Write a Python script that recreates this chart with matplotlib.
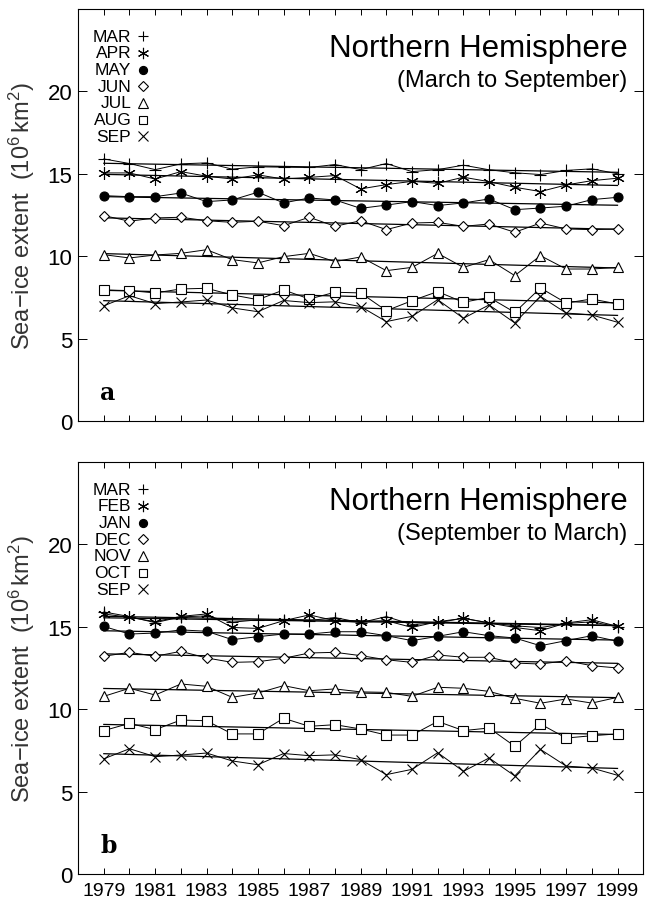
import numpy as np
import matplotlib
matplotlib.use("Agg")
import matplotlib.pyplot as plt

plt.rcParams['font.family'] = ['Liberation Sans', 'DejaVu Sans']
plt.rcParams['mathtext.fontset'] = 'custom'
plt.rcParams['mathtext.rm'] = 'Liberation Sans'
plt.rcParams['mathtext.it'] = 'Liberation Sans'

years = np.arange(1979, 2000)

# sea-ice extent, 10^6 km^2
mar = [15.9, 15.62, 15.25, 15.6, 15.66, 15.28, 15.42, 15.4, 15.38, 15.56, 15.25,
       15.62, 15.13, 15.25, 15.52, 15.24, 15.06, 14.95, 15.2, 15.3, 15.0]
apr = [15.05, 15.05, 14.68, 15.13, 14.85, 14.68, 14.93, 14.68, 14.78, 14.89, 14.08,
       14.34, 14.54, 14.42, 14.79, 14.52, 14.18, 13.92, 14.32, 14.58, 14.73]
may = [13.67, 13.61, 13.61, 13.83, 13.31, 13.41, 13.88, 13.23, 13.53, 13.41, 12.9,
       13.1, 13.31, 13.07, 13.23, 13.47, 12.82, 12.92, 13.03, 13.43, 13.57]
jun = [12.46, 12.12, 12.32, 12.36, 12.15, 12.05, 12.12, 11.85, 12.36, 11.81, 12.15,
       11.61, 12.01, 12.05, 11.81, 11.95, 11.45, 12.01, 11.65, 11.61, 11.65]
jul = [10.09, 9.89, 10.07, 10.17, 10.39, 9.79, 9.59, 9.97, 10.17, 9.67, 9.95,
       9.12, 9.32, 10.17, 9.32, 9.79, 8.82, 10.03, 9.22, 9.22, 9.32]
aug = [7.95, 7.91, 7.77, 8.01, 8.05, 7.65, 7.36, 7.95, 7.4, 7.81, 7.77,
       6.69, 7.3, 7.85, 7.2, 7.5, 6.59, 8.07, 7.16, 7.4, 7.1]
sep = [6.99, 7.6, 7.12, 7.22, 7.34, 6.86, 6.63, 7.31, 7.18, 7.23, 6.94,
       6.03, 6.35, 7.36, 6.23, 7.04, 5.95, 7.56, 6.55, 6.43, 5.99]
feb = [15.78, 15.57, 15.31, 15.63, 15.78, 14.96, 14.9, 15.37, 15.72, 15.37, 15.27,
       15.37, 14.96, 15.31, 15.51, 15.23, 14.96, 14.76, 15.23, 15.43, 15.02]
jan = [15.02, 14.56, 14.62, 14.81, 14.73, 14.22, 14.4, 14.56, 14.56, 14.7, 14.7,
       14.46, 14.16, 14.42, 14.7, 14.46, 14.32, 13.85, 14.16, 14.46, 14.12]
dec = [13.21, 13.45, 13.21, 13.51, 13.11, 12.84, 12.88, 13.09, 13.41, 13.45, 13.25,
       13.0, 12.84, 13.29, 13.15, 13.15, 12.8, 12.74, 12.94, 12.64, 12.5]
nov = [10.78, 11.27, 10.86, 11.53, 11.39, 10.72, 10.98, 11.43, 11.12, 11.23, 11.05,
       11.02, 10.78, 11.33, 11.27, 11.08, 10.66, 10.36, 10.62, 10.37, 10.72]
octo = [8.7, 9.14, 8.76, 9.34, 9.3, 8.5, 8.5, 9.45, 8.96, 9.06, 8.8,
        8.43, 8.43, 9.26, 8.7, 8.86, 7.75, 9.1, 8.25, 8.39, 8.5]

labels_a = ['MAR', 'APR', 'MAY', 'JUN', 'JUL', 'AUG', 'SEP']
series_a = [mar, apr, may, jun, jul, aug, sep]
labels_b = ['MAR', 'FEB', 'JAN', 'DEC', 'NOV', 'OCT', 'SEP']
series_b = [mar, feb, jan, dec, nov, octo, sep]

asterisk = (6, 2, 0)
markers = ['+', asterisk, 'o', 'D', '^', 's', 'x']
msizes = [8.5, 9, 6.5, 5.5, 7.5, 6.5, 7.5]
faces = ['black', 'black', 'black', 'white', 'white', 'white', 'black']


def panel(ax, labels, series, subtitle, letter, show_xlabels):
    for vals, mk, ms, fc in zip(series, markers, msizes, faces):
        vals = np.asarray(vals)
        ax.plot(years, vals, color='black', lw=0.7, marker=mk, ms=ms,
                mfc=fc, mec='black', mew=0.8, zorder=3)
        p = np.polyfit(years, vals, 1)
        ax.plot(years, np.polyval(p, years), color='black', lw=0.9, zorder=2)

    # legend: text right-aligned, marker to the right
    for i, (lab, mk, ms, fc) in enumerate(zip(labels, markers, msizes, faces)):
        yy = 0.934 - i * 0.0405
        ax.text(0.094, yy, lab, transform=ax.transAxes, ha='right', va='center',
                fontsize=12.5)
        ax.plot([0.115], [yy], transform=ax.transAxes, marker=mk, ms=ms * 0.9,
                mfc=fc, mec='black', mew=0.8, color='black', clip_on=False)

    ax.text(0.972, 0.886, 'Northern Hemisphere', transform=ax.transAxes,
            ha='right', va='baseline', fontsize=22.5)
    ax.text(0.972, 0.812, subtitle, transform=ax.transAxes,
            ha='right', va='baseline', fontsize=17)
    ax.text(0.039, 0.053, letter, transform=ax.transAxes, ha='left',
            va='baseline', fontsize=17, fontweight='bold', family='DejaVu Serif')

    ax.set_xlim(1978, 2000)
    ax.set_ylim(0, 25)
    ax.set_xticks(years)
    ax.set_xticklabels([str(y) if y % 2 == 1 else '' for y in years])
    ax.set_yticks([0, 5, 10, 15, 20])
    ax.tick_params(axis='x', direction='in', top=True, length=4.5, width=0.7,
                   labelsize=14, pad=6, labelbottom=show_xlabels)
    ax.tick_params(axis='y', direction='in', right=True, length=6.5, width=0.7,
                   labelsize=16, pad=4)
    for s in ax.spines.values():
        s.set_linewidth(0.8)
    ax.set_ylabel('Sea$-$ice extent  $(10^6\\,$km$^2)$', fontsize=17,
                  color='#333333')
    ax.yaxis.set_label_coords(-0.072, 0.5)


fig = plt.figure(figsize=(6.51, 9.03), dpi=100)
ax1 = fig.add_axes([0.12, 0.5327, 0.868, 0.4563])
ax2 = fig.add_axes([0.12, 0.031, 0.868, 0.4563])

panel(ax1, labels_a, series_a, '(March to September)', 'a', False)
panel(ax2, labels_b, series_b, '(September to March)', 'b', True)

fig.savefig('out.png', dpi=100)
